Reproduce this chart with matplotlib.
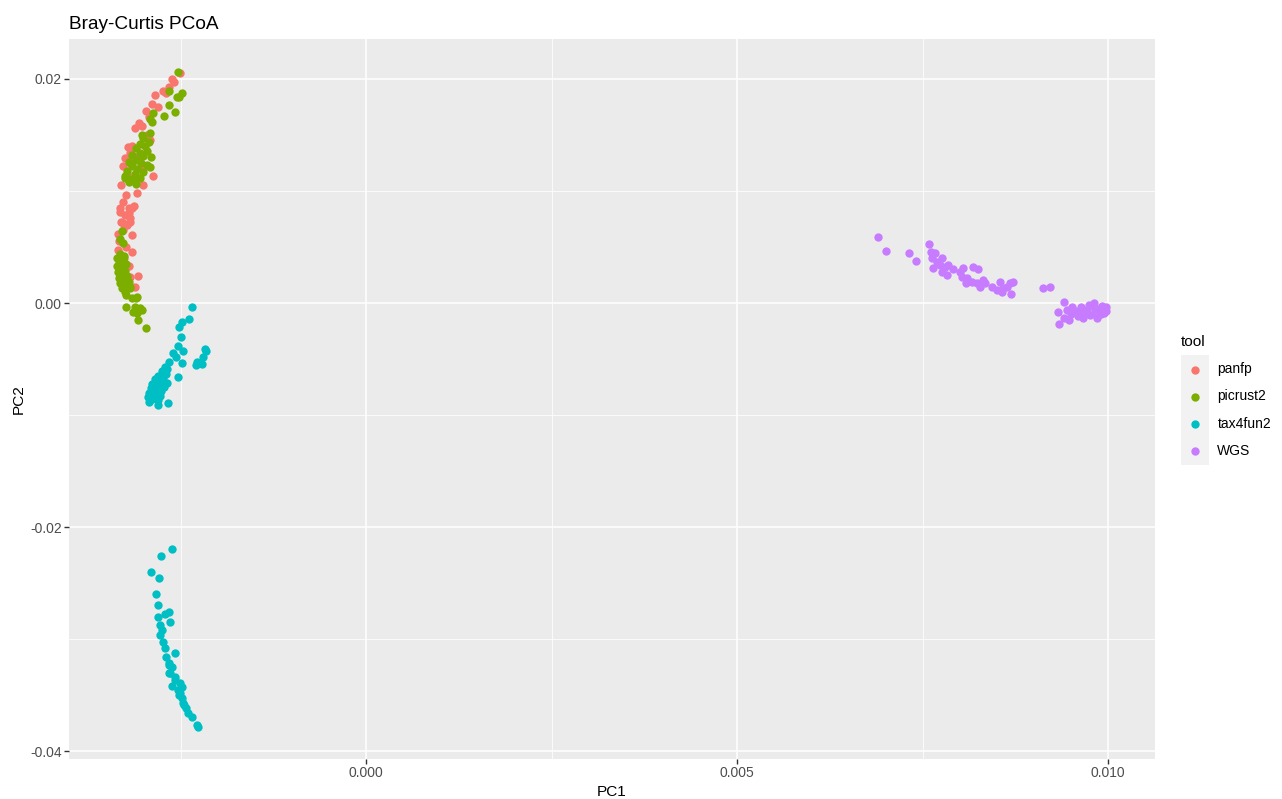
import matplotlib.pyplot as plt
from matplotlib.patches import Rectangle

plt.rcParams['font.family'] = ['Liberation Sans', 'DejaVu Sans']

# PCoA coordinates
panfp_x = [-0.00251, -0.00262, -0.00259, -0.00266, -0.00269, -0.00289, -0.00280, -0.00297,
           -0.00292, -0.00302, -0.00312, -0.00291, -0.00321, -0.00325, -0.00328, -0.00287,
           -0.00301, -0.00324, -0.00309, -0.00332, -0.00316, -0.00325, -0.00318, -0.00330,
           -0.00322, -0.00315, -0.00315, -0.00307, -0.00311, -0.00318, -0.00315, -0.00308,
           -0.00318, -0.00300, -0.00322, -0.00310, -0.00330, -0.00320, -0.00328, -0.00333,
           -0.00323, -0.00326, -0.00320, -0.00334, -0.00313, -0.00328, -0.00334, -0.00306,
           -0.00285, -0.00274, -0.00295, -0.00318, -0.00332, -0.00320, -0.00327, -0.00318]
panfp_y = [0.02051, 0.01997, 0.01976, 0.01931, 0.01872, 0.01774, 0.01753, 0.01717,
           0.01658, 0.01580, 0.01560, 0.01455, 0.01396, 0.01295, 0.01223, 0.01134,
           0.01054, 0.00964, 0.00979, 0.00848, 0.00848, 0.00786, 0.00760, 0.00720,
           0.00696, 0.00607, 0.00453, 0.00241, 0.00146, 0.00235, 0.01400, 0.01300,
           0.01250, 0.01200, 0.01150, 0.01100, 0.01050, 0.00800, 0.00650, 0.00550,
           0.00500, 0.00400, 0.00330, 0.00470, 0.00870, 0.00900, 0.00620, 0.01610,
           0.01860, 0.01890, 0.01500, 0.01340, 0.00815, 0.00845, 0.00711, 0.00726]

picrust2_x = [-0.00254, -0.00265, -0.00248, -0.00252, -0.00255, -0.00266, -0.00287, -0.00257,
              -0.00272, -0.00291, -0.00288, -0.00291, -0.00302,
              -0.00300, -0.00293, -0.00305, -0.00298, -0.00310, -0.00295, -0.00305, -0.00315,
              -0.00300, -0.00290, -0.00310, -0.00320, -0.00303, -0.00295, -0.00315, -0.00308,
              -0.00322, -0.00300, -0.00312, -0.00325, -0.00305, -0.00318,
              -0.00291, -0.00325, -0.00316, -0.00311, -0.00320, -0.00310,
              -0.00329, -0.00332, -0.00327,
              -0.00332, -0.00326, -0.00335, -0.00328, -0.00333, -0.00324, -0.00336, -0.00330,
              -0.00325, -0.00334, -0.00328, -0.00322, -0.00333, -0.00327, -0.00320, -0.00331,
              -0.00325, -0.00318, -0.00329,
              -0.00318, -0.00323, -0.00310, -0.00323, -0.00311, -0.00302, -0.00309, -0.00307,
              -0.00296, -0.00316, -0.00309, -0.00305, -0.00314, -0.00325, -0.00327, -0.00329]
picrust2_y = [0.02065, 0.01893, 0.01878, 0.01842, 0.01837, 0.01765, 0.01694, 0.01708,
              0.01672, 0.01640, 0.01616, 0.01515, 0.01500,
              0.01470, 0.01440, 0.01420, 0.01400, 0.01380, 0.01360, 0.01340, 0.01320,
              0.01310, 0.01300, 0.01280, 0.01260, 0.01250, 0.01230, 0.01220, 0.01200,
              0.01180, 0.01170, 0.01150, 0.01130, 0.01120, 0.01110,
              0.01217, 0.01116, 0.01098, 0.01128, 0.01080, 0.01060,
              0.00646, 0.00569, 0.00533,
              0.00440, 0.00420, 0.00400, 0.00380, 0.00360, 0.00345, 0.00330, 0.00310,
              0.00290, 0.00275, 0.00255, 0.00240, 0.00225, 0.00205, 0.00190, 0.00175,
              0.00160, 0.00145, 0.00130,
              0.00131, 0.00071, 0.00042, -0.00033, -0.00033, -0.00063, -0.00092, -0.00152,
              -0.00226, 0.00042, 0.00056, -0.00047, -0.00078, 0.00101, 0.00146, 0.00205]

tax4fun2_x = [-0.00235, -0.00239, -0.00248, -0.00252, -0.00250, -0.00254, -0.00247, -0.00217,
              -0.00215, -0.00220, -0.00228, -0.00221, -0.00229, -0.00260, -0.00256, -0.00248,
              -0.00266, -0.00271, -0.00254,
              -0.00268, -0.00275, -0.00270, -0.00280, -0.00274, -0.00285, -0.00278, -0.00268,
              -0.00288, -0.00281, -0.00272, -0.00290, -0.00283, -0.00276, -0.00292, -0.00285,
              -0.00278, -0.00294, -0.00288, -0.00280,
              -0.00267, -0.00292, -0.00280, -0.00290,
              -0.00262, -0.00276, -0.00290, -0.00279, -0.00283, -0.00280, -0.00266, -0.00271,
              -0.00281, -0.00264, -0.00278, -0.00275, -0.00278, -0.00274, -0.00271, -0.00258,
              -0.00269, -0.00265, -0.00262, -0.00266, -0.00264, -0.00257, -0.00251, -0.00248,
              -0.00253, -0.00251, -0.00248, -0.00246, -0.00242, -0.00240, -0.00235, -0.00228,
              -0.00227, -0.00265, -0.00258, -0.00262, -0.00252, -0.00245]
tax4fun2_y = [-0.00033, -0.00143, -0.00167, -0.00217, -0.00306, -0.00384, -0.00426, -0.00413,
              -0.00429, -0.00479, -0.00524, -0.00545, -0.00554, -0.00449, -0.00479, -0.00538,
              -0.00524, -0.00569, -0.00663,
              -0.00590, -0.00610, -0.00635, -0.00650, -0.00670, -0.00680, -0.00700, -0.00710,
              -0.00720, -0.00735, -0.00750, -0.00760, -0.00775, -0.00790, -0.00800, -0.00815,
              -0.00830, -0.00840, -0.00860, -0.00870,
              -0.00896, -0.00887, -0.00911, -0.00815,
              -0.02199, -0.02259, -0.02404, -0.02453, -0.02601, -0.02696, -0.02756, -0.02777,
              -0.02801, -0.02851, -0.02875, -0.02920, -0.02964, -0.03024, -0.03083, -0.03128,
              -0.03158, -0.03217, -0.03247, -0.03232, -0.03306, -0.03366, -0.03396, -0.03426,
              -0.03455, -0.03485, -0.03529, -0.03574, -0.03619, -0.03663, -0.03694, -0.03768,
              -0.03783, -0.03300, -0.03340, -0.03420, -0.03500, -0.03590]

wgs_x = [0.006904, 0.007008, 0.007318, 0.007412, 0.007588, 0.007615, 0.007668, 0.007624,
         0.007691, 0.007759, 0.007736, 0.007646, 0.007803, 0.007848, 0.007759, 0.007834,
         0.007915, 0.008005, 0.008050, 0.008028, 0.008096, 0.008086, 0.008185, 0.008252,
         0.008163, 0.008230, 0.008275, 0.008319, 0.008342, 0.008433, 0.008500, 0.008544,
         0.008589, 0.008635, 0.008679, 0.008724, 0.008689, 0.008567, 0.009120, 0.009218,
         0.009407, 0.009330, 0.009344,
         0.00945, 0.00950, 0.00955, 0.00960, 0.00963, 0.00968, 0.00972, 0.00976, 0.00980,
         0.00983, 0.00987, 0.00990, 0.00993, 0.00997, 0.00940, 0.00948, 0.00958, 0.00966,
         0.00975, 0.00985, 0.00995, 0.00952, 0.009811, 0.009915, 0.009973]
wgs_y = [0.00587, 0.00467, 0.00444, 0.00375, 0.00524, 0.00458, 0.00444, 0.00399,
         0.00369, 0.00399, 0.00339, 0.00310, 0.00324, 0.00339, 0.00279, 0.00250,
         0.00301, 0.00279, 0.00310, 0.00235, 0.00221, 0.00176, 0.00324, 0.00301,
         0.00190, 0.00176, 0.00146, 0.00205, 0.00176, 0.00146, 0.00116, 0.00190,
         0.00131, 0.00146, 0.00176, 0.00185, 0.00080, 0.00101, 0.00131, 0.00140,
         0.00006, -0.00078, -0.00188,
         -0.00060, -0.00100, -0.00070, -0.00120, -0.00040, -0.00090, -0.00060, -0.00110, -0.00030,
         -0.00080, -0.00050, -0.00100, -0.00070, -0.00040, -0.00130, -0.00150, -0.00090, -0.00130,
         -0.00020, -0.00130, -0.00090, -0.00040, 0.00003, -0.00027, -0.00069]

tools = ['panfp', 'picrust2', 'tax4fun2', 'WGS']
colors = ['#F8766D', '#7CAE00', '#00BFC4', '#C77CFF']
xs = [panfp_x, picrust2_x, tax4fun2_x, wgs_x]
ys = [panfp_y, picrust2_y, tax4fun2_y, wgs_y]

fig = plt.figure(figsize=(12.82, 7.99), dpi=100)
ax = fig.add_axes([69 / 1282, 1 - 759 / 799, (1155 - 69) / 1282, (759 - 39) / 799])
ax.set_facecolor('#EBEBEB')
for s in ax.spines.values():
    s.set_visible(False)

for t, c, x, y in zip(tools, colors, xs, ys):
    ax.scatter(x, y, s=36, color=c, label=t, linewidths=0, zorder=3)

ax.set_xlim(-0.004003, 0.010633)
ax.set_ylim(-0.04071, 0.02357)
ax.set_xticks([0.0, 0.005, 0.010])
ax.set_xticklabels(['0.000', '0.005', '0.010'])
ax.set_yticks([-0.04, -0.02, 0.0, 0.02])
ax.set_yticklabels(['-0.04', '-0.02', '0.00', '0.02'])
ax.set_xticks([-0.0025, 0.0025, 0.0075], minor=True)
ax.set_yticks([-0.03, -0.01, 0.01], minor=True)
ax.grid(which='major', color='white', linewidth=1.1, zorder=0)
ax.grid(which='minor', color='white', linewidth=0.55, zorder=0)
ax.set_axisbelow(True)
ax.tick_params(which='major', length=3.3, width=1.0, color='#333333',
               labelcolor='#4D4D4D', labelsize=10, pad=2)
ax.tick_params(which='minor', length=0)

ax.set_xlabel('PC1', fontsize=11.1, labelpad=3)
ax.set_ylabel('PC2', fontsize=11.1, labelpad=3)
ax.set_title('Bray-Curtis PCoA', fontsize=13.7, loc='left', pad=7)

# grey key background like ggplot legend keys
fig.patches.append(Rectangle((1181 / 1282, 1 - 465 / 799), 28 / 1282, 110 / 799,
                             transform=fig.transFigure, facecolor='#F2F2F2',
                             edgecolor='none', zorder=0))
leg = fig.legend(loc='upper left', bbox_to_anchor=(1181 / 1282, 1 - 335 / 799),
                 title='tool', frameon=False, fontsize=10, title_fontsize=11.1,
                 markerscale=1.0, handletextpad=0.62, labelspacing=0.95,
                 handlelength=2.0, borderpad=0, borderaxespad=0)
leg._legend_box.align = 'left'

fig.savefig('out.png', dpi=100)
